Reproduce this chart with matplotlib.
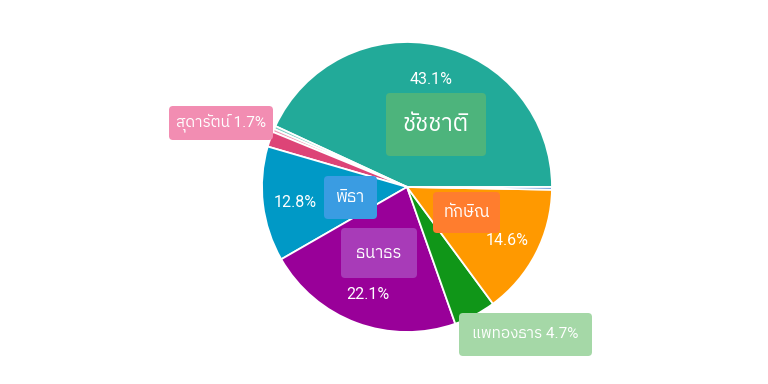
import matplotlib
matplotlib.use("Agg")
import matplotlib.pyplot as plt
from matplotlib import font_manager, ft2font
from matplotlib.patches import FancyBboxPatch
import numpy as np

# ---------------- data ----------------
names = ["ชัชชาติ", "อื่น ๆ 1", "อื่น ๆ 2", "สุดารัตน์", "พิธา", "ธนาธร", "แพทองธาร", "ทักษิณ", "อื่น ๆ 3"]
values = [43.1, 0.35, 0.35, 1.7, 12.8, 22.1, 4.7, 14.6, 0.3]
colors = ["#22AA99", "#7FCFC4", "#EE9AB6", "#DD4477", "#0099C6", "#990099", "#109618", "#FF9900", "#5B8FD6"]
pct_labels = ["43.1%", "", "", "", "12.8%", "22.1%", "", "14.6%", ""]

# ---------------- font with Thai glyphs ----------------
thai_family = None
cands = []
for fe in font_manager.fontManager.ttflist:
    try:
        f = ft2font.FT2Font(fe.fname)
        if f.get_char_index(0x0E0A) != 0 and f.get_char_index(0x0E1E) != 0:
            cands.append(fe.name)
    except Exception:
        pass
pref = [c for c in cands if "Sans" in c and "Mono" not in c]
if pref:
    thai_family = pref[0]
elif cands:
    thai_family = cands[0]
fam = ["Roboto"] + ([thai_family] if thai_family else []) + ["DejaVu Sans"]
plt.rcParams["font.family"] = fam

W, H = 768, 384
fig = plt.figure(figsize=(W / 100, H / 100), dpi=100)
ax = fig.add_axes([0, 0, 1, 1])

cx, cy, R = 407, H - 187, 145
wedges, _ = ax.pie(values, colors=colors, startangle=0, counterclock=True,
                   center=(cx, cy), radius=R, frame=True,
                   wedgeprops=dict(edgecolor="white", linewidth=1.3))
ax.set_xlim(0, W)
ax.set_ylim(0, H)
ax.set_aspect("equal")
ax.axis("off")

# percentage labels inside at mid-angle
for w, lab in zip(wedges, pct_labels):
    if not lab:
        continue
    ang = np.deg2rad((w.theta1 + w.theta2) / 2)
    r = 0.775 * R
    ax.text(cx + r * np.cos(ang), cy + r * np.sin(ang) - 2, lab, color="white",
            fontsize=11.5, ha="center", va="center", zorder=7)

# name boxes (pixel layout: x0, y0_top, x1, y1_bottom)
boxes = [
    ("ชัชชาติ", (386, 93, 486, 156), "#4DB47C", 17, "white"),
    ("พิธา", (324, 176, 377, 219), "#3A9CE2", 12, "white"),
    ("ธนาธร", (341, 228, 417, 278), "#A83BB8", 12, "white"),
    ("ทักษิณ", (433, 192, 500, 233), "#FF7D2E", 12, "white"),
    ("สุดารัตน์ 1.7%", (169, 106, 273, 140), "#F28DB2", 11, "white"),
    ("แพทองธาร 4.7%", (459, 313, 592, 356), "#A5D8A7", 11, "white"),
]
for txt, (x0, y0, x1, y1), fc, fs, tc in boxes:
    p = FancyBboxPatch((x0 + 4, H - y1 + 4), x1 - x0 - 8, y1 - y0 - 8,
                       boxstyle="round,pad=4", fc=fc, ec="none", zorder=5)
    ax.add_patch(p)
    ax.text((x0 + x1) / 2, H - (y0 + y1) / 2, txt, color=tc, fontsize=fs,
            ha="center", va="center", zorder=6)

fig.savefig("out.png", dpi=100, facecolor="white")
